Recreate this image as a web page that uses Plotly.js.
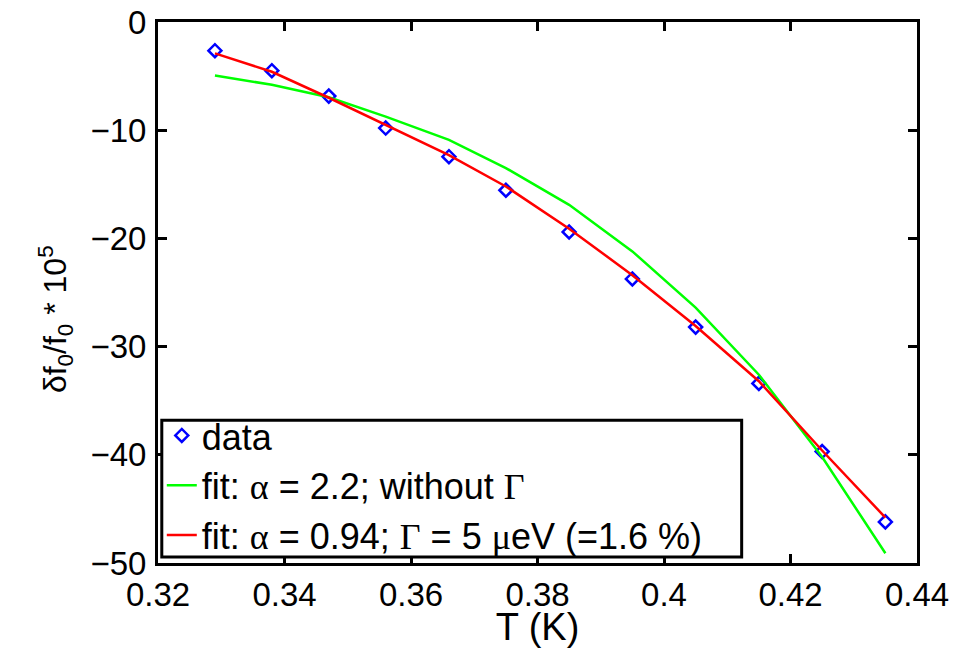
<!DOCTYPE html>
<html>
<head>
<meta charset="utf-8">
<script src="https://cdn.plot.ly/plotly-3.0.1.min.js"></script>
<style>html,body{margin:0;padding:0;background:#fff;}#chart{width:958px;height:648px;}</style>
</head>
<body>
<div id="chart"></div>
<script>
const T = [0.329, 0.338, 0.347, 0.356, 0.366, 0.375, 0.385, 0.395, 0.405, 0.415, 0.425, 0.435];
const dataVals = [-2.65, -4.5, -6.85, -9.8, -12.45, -15.55, -19.4, -23.75, -28.2, -33.4, -39.7, -46.2];
const fitNoGamma = [-4.95, -5.8, -6.95, -8.75, -10.9, -13.5, -16.9, -21.2, -26.4, -32.6, -40.2, -49.1];
const fitGamma = [-2.9, -4.6, -7.0, -9.5, -12.3, -15.2, -19.1, -23.4, -28.1, -33.2, -39.6, -45.8];
const xTicks = [0.32, 0.34, 0.36, 0.38, 0.4, 0.42, 0.44];
const xTickText = ['0.32', '0.34', '0.36', '0.38', '0.4', '0.42', '0.44'];
const yTicks = [0, -10, -20, -30, -40, -50];
const yTitle = 'δf<sub>0</sub>/f<sub>0</sub> * 10<sup>5</sup>';
const xTitle = 'T (K)';

const serif = s => '<span style="font-family:\'Liberation Serif\',serif">' + s + '</span>';

const traces = [
  {x: T, y: dataVals, mode: 'markers', type: 'scatter', name: 'data',
   marker: {symbol: 'diamond-open', color: '#0000ff', size: 10, line: {width: 2.5, color: '#0000ff'}}},
  {x: T, y: fitNoGamma, mode: 'lines', type: 'scatter',
   name: 'fit: ' + serif('α') + ' = 2.2; without ' + serif('Γ'),
   line: {color: '#00ff00', width: 2.5}},
  {x: T, y: fitGamma, mode: 'lines', type: 'scatter',
   name: 'fit: ' + serif('α') + ' = 0.94; ' + serif('Γ') + ' = 5 ' + serif('μ') + 'eV (=1.6 %)',
   line: {color: '#ff0000', width: 2.5}}
];

const axisCommon = {
  showline: true, linecolor: '#000', linewidth: 3, mirror: 'ticks',
  ticks: 'inside', ticklen: 9, tickwidth: 3, tickcolor: '#000',
  showgrid: false, zeroline: false,
  tickfont: {family: 'Liberation Sans, Arial, sans-serif', size: 33, color: '#000'}
};

const layout = {
  width: 958, height: 648,
  margin: {l: 158, r: 41, t: 22, b: 85},
  paper_bgcolor: '#fff', plot_bgcolor: '#fff',
  showlegend: true,
  font: {family: 'Liberation Sans, Arial, sans-serif', color: '#000'},
  xaxis: Object.assign({}, axisCommon, {
    range: [0.32, 0.44], tickvals: xTicks, ticktext: xTickText,
    ticklabelstandoff: 0,
    title: {text: xTitle, font: {size: 38, color: '#000'}, standoff: 8}
  }),
  yaxis: Object.assign({}, axisCommon, {
    range: [-50, 0], tickvals: yTicks,
    ticklabelstandoff: 2
  }),
  annotations: [{
    text: yTitle, xref: 'paper', yref: 'paper', x: -0.135, y: 0.45,
    xanchor: 'center', yanchor: 'middle', textangle: -90, showarrow: false,
    font: {size: 32, color: '#000', family: 'Liberation Sans, Arial, sans-serif'}
  }],
  shapes: [{
    type: 'rect', xref: 'paper', yref: 'paper', layer: 'above',
    x0: 0.005, x1: 0.769, y0: 0.011, y1: 0.264,
    line: {color: '#000', width: 3}, fillcolor: 'rgba(255,255,255,1)'
  }],
  legend: {
    x: 0.005, y: 0.291, xanchor: 'left', yanchor: 'top',
    bgcolor: 'rgba(0,0,0,0)', borderwidth: 0,
    font: {size: 36, color: '#000', family: 'Liberation Sans, Arial, sans-serif'},
    tracegroupgap: 0, itemwidth: 30
  }
};

Plotly.newPlot('chart', traces, layout, {displayModeBar: false});
</script>
</body>
</html>
